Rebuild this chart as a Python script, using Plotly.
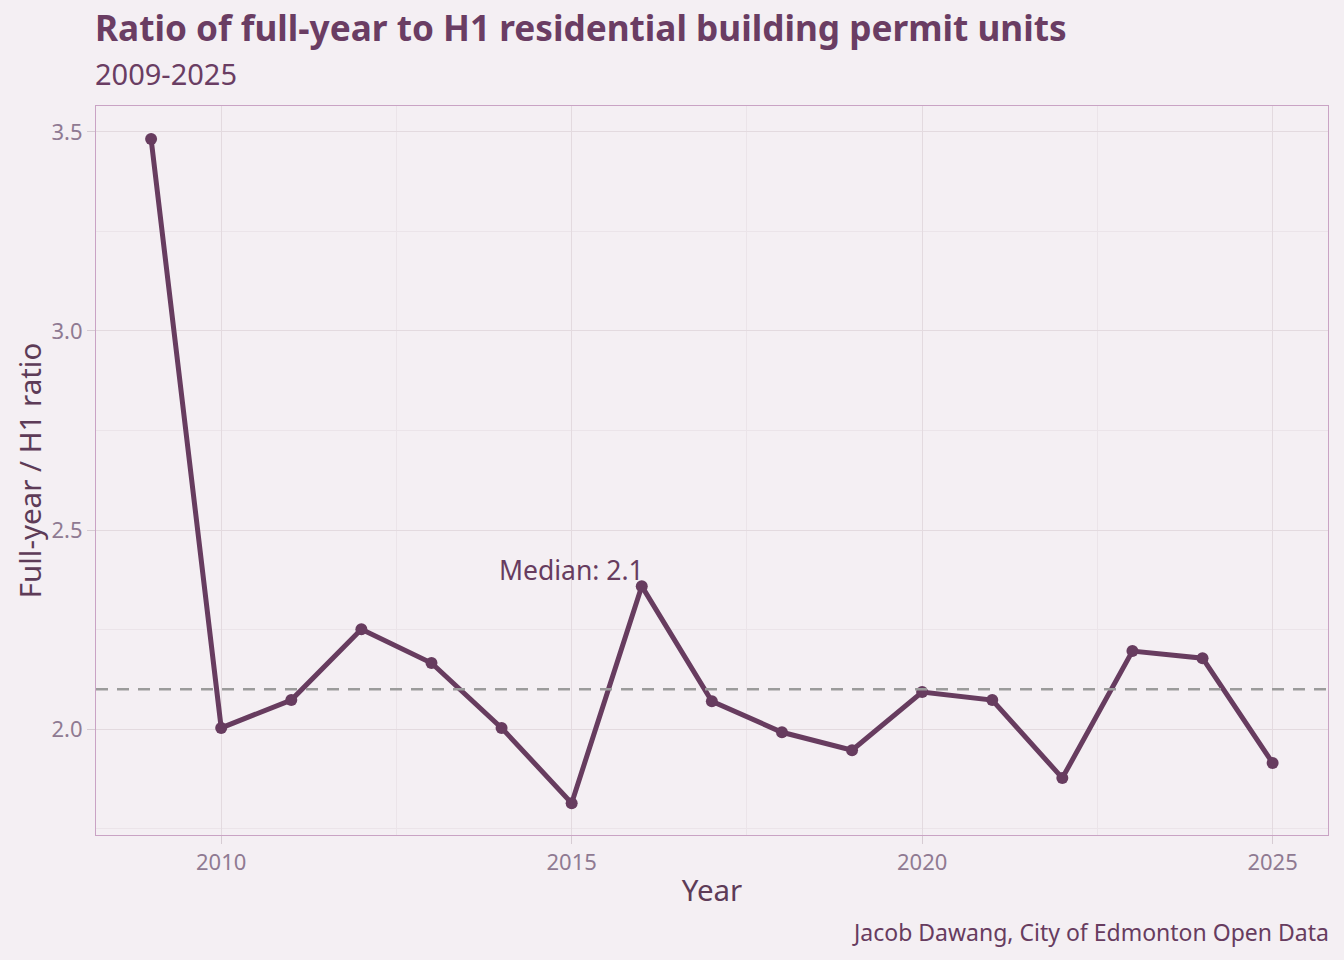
import plotly.graph_objects as go

# Ratio of full-year to H1 building permit units, Edmonton
years = list(range(2009, 2026))
ratio = [3.482, 2.003, 2.073, 2.251, 2.166, 2.003, 1.814, 2.359, 2.070,
         1.992, 1.947, 2.093, 2.073, 1.877, 2.196, 2.178, 1.915]
median_value = 2.1
median_label = "Median: 2.1"

bg = "#f4eff3"
plum = "#673c5f"

fig = go.Figure()

fig.add_trace(go.Scatter(
    x=years, y=ratio, mode="lines+markers",
    line=dict(color=plum, width=5),
    marker=dict(color=plum, size=12),
    showlegend=False,
))

# median reference line
fig.add_hline(y=median_value, line=dict(color="#9b9b9b", width=2.5, dash="12px,9px"))
fig.add_annotation(x=2015, y=2.4, text=median_label, showarrow=False,
                   font=dict(size=26.5, color=plum))

# title, subtitle and caption
fig.add_annotation(x=0, y=1.108, xref="paper", yref="paper", xanchor="left",
                   yanchor="middle", showarrow=False, xshift=-3,
                   text="<b>Ratio of full-year to H1 residential building permit units</b>",
                   font=dict(size=35.2, color="#6a3d63"))
fig.add_annotation(x=0, y=1.045, xref="paper", yref="paper", xanchor="left",
                   yanchor="middle", showarrow=False, xshift=-3, text="2009-2025",
                   font=dict(size=29, color="#6a3d63"))
fig.add_annotation(x=1, y=-0.133, xref="paper", yref="paper", xanchor="right",
                   yanchor="middle", showarrow=False, xshift=3,
                   text="Jacob Dawang, City of Edmonton Open Data",
                   font=dict(size=23, color=plum))

axis_common = dict(
    showline=True, mirror=True, linecolor="#c9a3c4", linewidth=1,
    gridcolor="#e3dadf", gridwidth=1.2,
    ticks="outside", ticklen=8, tickcolor="#d6ccd3",
    tickfont=dict(size=22, color="#8f7a92"),
    zeroline=False,
)

fig.update_xaxes(
    **axis_common,
    range=[2008.214, 2025.79], tick0=2010, dtick=5,
    minor=dict(dtick=2.5, tick0=2010, showgrid=True, gridcolor="#ebe4e9", gridwidth=1),
    title=dict(text="Year", font=dict(size=29.5, color="#5d3b57"), standoff=4),
)
fig.update_yaxes(
    **axis_common,
    range=[1.734, 3.565], tick0=2.0, dtick=0.5, tickformat=".1f",
    minor=dict(dtick=0.25, tick0=2.0, showgrid=True, gridcolor="#ebe4e9", gridwidth=1),
    title=dict(text="Full-year / H1 ratio", font=dict(size=29.5, color="#5d3b57"), standoff=1),
)

fig.update_layout(
    width=1344, height=960,
    paper_bgcolor=bg, plot_bgcolor=bg,
    font=dict(family="Noto Sans", color=plum),
    margin=dict(l=96, r=16, t=106, b=125),
)

# drop the default page margin so the figure fills the window
fig.write_html("out.html", config={"displayModeBar": False},
               post_script="document.body.style.margin = '0';")
